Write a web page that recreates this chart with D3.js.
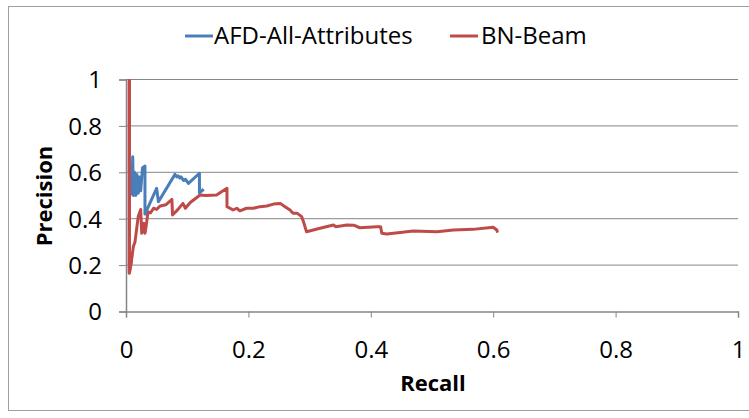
<!DOCTYPE html>
<html><head><meta charset="utf-8">
<script src="https://cdn.jsdelivr.net/npm/d3@7"></script>
<style>body{margin:0;background:#fff;} svg{display:block;font-family:"Open Sans",Lato,sans-serif;}</style>
</head><body><svg id="c" width="749" height="418"></svg>
<script>
const xTicks = [0, 0.2, 0.4, 0.6, 0.8, 1];
const yTicks = [0, 0.2, 0.4, 0.6, 0.8, 1];
const seriesNames = ["AFD-All-Attributes", "BN-Beam"];
const seriesColors = ["#4A7EBB", "#BE4B48"];
const afdRecall = [0.0093,0.011,0.012,0.014,0.016,0.018,0.020,0.022,0.024,0.027,0.031,0.031,0.050,0.053,0.080,0.083,0.085,0.088,0.090,0.094,0.097,0.102,0.120,0.120,0.127];
const afdPrecision = [0.50,0.667,0.50,0.60,0.50,0.59,0.51,0.58,0.52,0.62,0.627,0.42,0.531,0.473,0.591,0.58,0.585,0.575,0.58,0.565,0.57,0.552,0.596,0.512,0.527];
const bnRecall = [0.0054,0.0054,0.009,0.012,0.0147,0.020,0.024,0.0257,0.029,0.031,0.033,0.036,0.040,0.045,0.050,0.056,0.065,0.075,0.076,0.085,0.093,0.097,0.105,0.121,0.130,0.148,0.165,0.165,0.175,0.181,0.186,0.197,0.208,0.219,0.230,0.241,0.252,0.258,0.268,0.273,0.280,0.287,0.290,0.295,0.317,0.339,0.343,0.361,0.372,0.382,0.410,0.416,0.418,0.426,0.448,0.469,0.508,0.535,0.567,0.600,0.606,0.607];
const bnPrecision = [1.0,0.165,0.22,0.28,0.30,0.41,0.44,0.337,0.38,0.337,0.37,0.43,0.425,0.445,0.44,0.455,0.46,0.483,0.416,0.44,0.466,0.445,0.47,0.502,0.50,0.502,0.531,0.452,0.4375,0.445,0.434,0.445,0.445,0.452,0.455,0.463,0.466,0.455,0.4375,0.423,0.423,0.409,0.387,0.344,0.359,0.373,0.365,0.373,0.372,0.361,0.365,0.365,0.337,0.334,0.341,0.347,0.344,0.351,0.354,0.363,0.351,0.34];

const FONT = "'Open Sans',Lato,sans-serif";
const svg = d3.select("#c");
svg.append("rect").attr("x",8.5).attr("y",6.5).attr("width",760).attr("height",404).attr("fill","#fff").attr("stroke","#A0A0A0").attr("stroke-width",1);

const x = d3.scaleLinear().domain([0,1]).range([126,738]);
const y = d3.scaleLinear().domain([0,1]).range([311.5,79.5]);
const grid = "#868686";

svg.append("g").selectAll("line").data(yTicks.filter(d=>d>0)).join("line")
  .attr("x1",x(0)).attr("x2",x(1)).attr("y1",d=>y(d)).attr("y2",d=>y(d))
  .attr("stroke",grid).attr("stroke-width",1);

const xAxis = d3.axisBottom(x).tickValues(xTicks).tickFormat(d=>String(d)).tickSize(6).tickPadding(23);
const gx = svg.append("g").attr("transform",`translate(0,${y(0)})`).call(xAxis);
const yAxis = d3.axisLeft(y).tickValues(yTicks).tickFormat(d=>String(d)).tickSize(7).tickPadding(17);
const gy = svg.append("g").attr("transform",`translate(${x(0)},0)`).call(yAxis);
[gx,gy].forEach(g=>{
  g.select(".domain").attr("stroke",grid).attr("stroke-width",1.5);
  g.selectAll(".tick line").attr("stroke",grid).attr("stroke-width",1);
  g.selectAll("text").attr("font-size",24).attr("fill","#000").attr("font-family",FONT);
});
gy.selectAll(".tick text").attr("dy","0.35em");

const line = d3.line().x(d=>x(d[0])).y(d=>y(d[1]));
const afd = afdRecall.map((r,i)=>[r,afdPrecision[i]]);
const bn = bnRecall.map((r,i)=>[r,bnPrecision[i]]);
svg.append("path").datum(bn).attr("d",line).attr("fill","none").attr("stroke",seriesColors[1]).attr("stroke-width",3).attr("stroke-linejoin","round");
svg.append("path").datum(afd).attr("d",line).attr("fill","none").attr("stroke",seriesColors[0]).attr("stroke-width",3).attr("stroke-linejoin","round");
svg.append("path").datum(bn.slice(0,3)).attr("d",line).attr("fill","none").attr("stroke",seriesColors[1]).attr("stroke-width",3);

svg.append("text").attr("x",433).attr("y",391).attr("text-anchor","middle").attr("font-size",22).attr("font-weight","bold").attr("font-family",FONT).text("Recall");
svg.append("text").attr("transform","translate(52,196) rotate(-90)").attr("text-anchor","middle").attr("font-size",22).attr("font-weight","bold").attr("font-family",FONT).text("Precision");

const leg = [{x:185,tx:214},{x:450,tx:481}];
leg.forEach((l,i)=>{
  svg.append("line").attr("x1",l.x).attr("x2",l.x+28).attr("y1",36).attr("y2",36).attr("stroke",seriesColors[i]).attr("stroke-width",3);
  svg.append("text").attr("x",l.tx).attr("y",44).attr("font-size",24).attr("font-family",FONT).text(seriesNames[i]);
});
</script></body></html>
